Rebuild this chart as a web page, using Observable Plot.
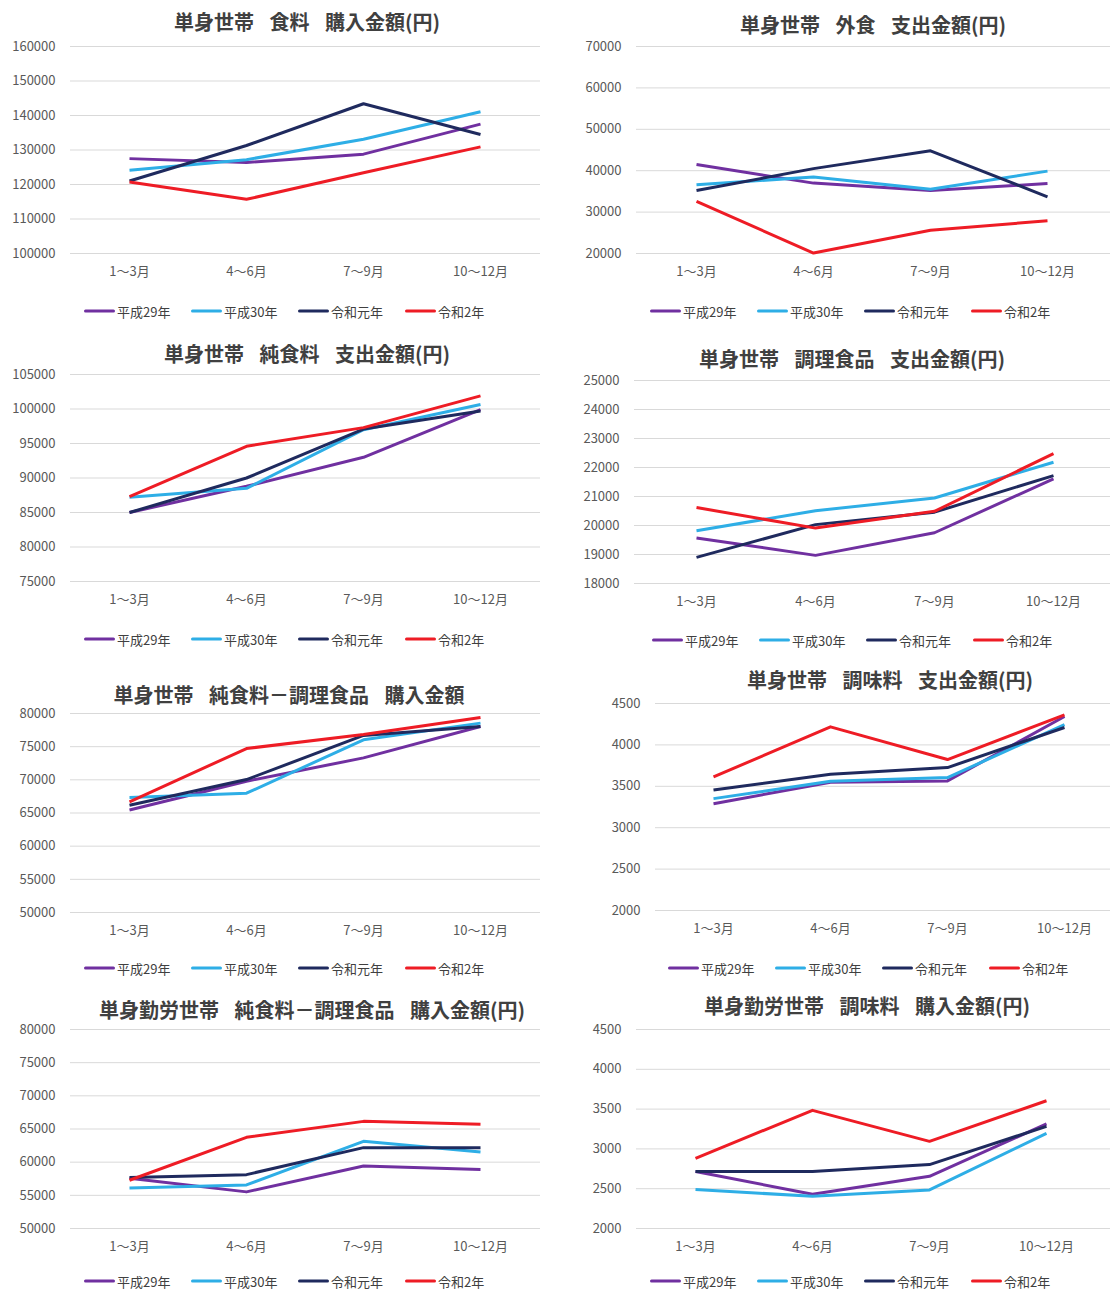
<!DOCTYPE html>
<html><head><meta charset="utf-8">
<script src="https://cdn.jsdelivr.net/npm/d3@7"></script>
<script src="https://cdn.jsdelivr.net/npm/@observablehq/plot@0.6"></script>
<style>
body{margin:0;background:#fff;font-family:"Noto Sans CJK JP","Noto Sans",sans-serif;}
#root{position:relative;width:1110px;height:1290px;overflow:hidden;background:#fff;}
.panel{position:absolute;}
.title{position:absolute;transform:translate(-50%,-50%);white-space:pre;font-size:20px;line-height:24px;color:#404040;font-weight:700;word-spacing:11px;}
.litem{position:absolute;display:flex;align-items:center;transform:translateY(-50%);font-size:13px;line-height:13px;color:#404040;white-space:nowrap;}
.sw{display:inline-block;width:31px;height:3px;margin-right:2px;border-radius:1.5px;}
</style>
</head><body><div id="root"></div>
<script>
// ---- data ----
const quarters = ["1～3月","4～6月","7～9月","10～12月"];
const seriesNames = ["平成29年","平成30年","令和元年","令和2年"];
const seriesColors = ["#7030a0","#2eaee6","#1f2a5e","#ee1c25"];

const food_h29 = [127500,126400,128800,137500];
const food_h30 = [124100,127200,133100,141100];
const food_r1  = [121000,131300,143400,134500];
const food_r2  = [120700,115700,123400,130900];

const gaishoku_h29 = [41500,37000,35200,36900];
const gaishoku_h30 = [36600,38500,35500,39900];
const gaishoku_r1  = [35200,40500,44800,33700];
const gaishoku_r2  = [32600,20100,25600,27900];

const jun_h29 = [85000,88800,93000,99900];
const jun_h30 = [87200,88500,97000,100650];
const jun_r1  = [85000,90000,97100,99700];
const jun_r2  = [87300,94600,97300,101900];

const chori_h29 = [19570,18970,19750,21610];
const chori_h30 = [19820,20510,20950,22180];
const chori_r1  = [18900,20030,20460,21720];
const chori_r2  = [20620,19910,20490,22480];

const sa_h29 = [65460,69790,73310,78050];
const sa_h30 = [67320,67980,76030,78550];
const sa_r1  = [66160,70040,76690,78050];
const sa_r2  = [66670,74720,76840,79400];

const chomi_h29 = [3290,3548,3565,4343];
const chomi_h30 = [3351,3560,3605,4246];
const chomi_r1  = [3456,3645,3726,4210];
const chomi_r2  = [3613,4218,3823,4363];

const kinroSa_h29 = [57570,55520,59430,58880];
const kinroSa_h30 = [56120,56570,63140,61530];
const kinroSa_r1  = [57670,58120,62190,62190];
const kinroSa_r2  = [57270,63740,66150,65700];

const kinroChomi_h29 = [2715,2431,2656,3313];
const kinroChomi_h30 = [2489,2405,2485,3196];
const kinroChomi_r1  = [2715,2715,2803,3283];
const kinroChomi_r2  = [2882,3484,3095,3605];

const ticksFood = [100000,110000,120000,130000,140000,150000,160000];
const ticksGaishoku = [20000,30000,40000,50000,60000,70000];
const ticksJun = [75000,80000,85000,90000,95000,100000,105000];
const ticksChori = [18000,19000,20000,21000,22000,23000,24000,25000];
const ticksSa = [50000,55000,60000,65000,70000,75000,80000];
const ticksChomi = [2000,2500,3000,3500,4000,4500];

const titles = [
  "単身世帯 食料 購入金額(円)",
  "単身世帯 外食 支出金額(円)",
  "単身世帯 純食料 支出金額(円)",
  "単身世帯 調理食品 支出金額(円)",
  "単身世帯 純食料－調理食品 購入金額",
  "単身世帯 調味料 支出金額(円)",
  "単身勤労世帯 純食料－調理食品 購入金額(円)",
  "単身勤労世帯 調味料 購入金額(円)"
];

// ---- layout ----
const panels = [
  {series:[food_h29,food_h30,food_r1,food_r2], ticks:ticksFood, svgL:0, gridL:70, gridR:540, top:46, bottom:253, c1:128, c4:481, tx:307, ty:22, lx:84, ly:311},
  {series:[gaishoku_h29,gaishoku_h30,gaishoku_r1,gaishoku_r2], ticks:ticksGaishoku, svgL:556, gridL:636, gridR:1110, top:46, bottom:253, c1:695, c4:1047, tx:873, ty:25, lx:650, ly:311},
  {series:[jun_h29,jun_h30,jun_r1,jun_r2], ticks:ticksJun, svgL:0, gridL:70, gridR:540, top:374, bottom:581, c1:128, c4:481, tx:307, ty:354, lx:84, ly:639},
  {series:[chori_h29,chori_h30,chori_r1,chori_r2], ticks:ticksChori, svgL:556, gridL:634, gridR:1110, top:380, bottom:583, c1:696, c4:1053, tx:852, ty:359, lx:652, ly:640},
  {series:[sa_h29,sa_h30,sa_r1,sa_r2], ticks:ticksSa, svgL:0, gridL:70, gridR:540, top:713, bottom:912, c1:128, c4:481, tx:289, ty:695, lx:84, ly:968},
  {series:[chomi_h29,chomi_h30,chomi_r1,chomi_r2], ticks:ticksChomi, svgL:556, gridL:655, gridR:1110, top:703, bottom:910, c1:712, c4:1064, tx:890, ty:680, lx:668, ly:968},
  {series:[kinroSa_h29,kinroSa_h30,kinroSa_r1,kinroSa_r2], ticks:ticksSa, svgL:0, gridL:70, gridR:540, top:1029, bottom:1228, c1:128, c4:481, tx:312, ty:1010, lx:84, ly:1281},
  {series:[kinroChomi_h29,kinroChomi_h30,kinroChomi_r1,kinroChomi_r2], ticks:ticksChomi, svgL:556, gridL:636, gridR:1110, top:1029, bottom:1228, c1:694, c4:1047, tx:867, ty:1006, lx:650, ly:1281}
];

const root = document.getElementById("root");

panels.forEach((p, idx) => {
  const rows = [];
  p.series.forEach((vals, si) => vals.forEach((v, qi) => rows.push({s: seriesNames[si], q: quarters[qi], v})));
  const svgTop = p.top - 10;
  const mb = 40;
  const chart = Plot.plot({
    width: p.gridR - p.svgL,
    height: (p.bottom - svgTop) + mb,
    marginLeft: p.gridL - p.svgL,
    marginRight: 0,
    marginTop: 10,
    marginBottom: mb,
    style: {fontFamily: '"Noto Sans CJK JP","Noto Sans",sans-serif', fontSize: "13px", color: "#595959", background: "transparent", overflow: "visible"},
    x: {type: "point", domain: quarters, padding: 0, range: [p.c1 - p.svgL, p.c4 - p.svgL], tickSize: 0, tickPadding: 13, label: null},
    y: {domain: [p.ticks[0], p.ticks[p.ticks.length - 1]], ticks: p.ticks, tickSize: 0, tickPadding: 15, label: null, tickFormat: d => String(d)},
    color: {domain: seriesNames, range: seriesColors},
    marks: [
      Plot.ruleY(p.ticks, {stroke: "#d9d9d9", strokeWidth: 1}),
      Plot.lineY(rows, {x: "q", y: "v", z: "s", stroke: "s", strokeWidth: 3, strokeLinejoin: "round", strokeLinecap: "butt"})
    ]
  });
  chart.classList.add("panel");
  chart.style.left = p.svgL + "px";
  chart.style.top = svgTop + "px";
  root.appendChild(chart);

  const t = document.createElement("div");
  t.className = "title";
  t.textContent = titles[idx];
  t.style.left = p.tx + "px";
  t.style.top = p.ty + "px";
  root.appendChild(t);

  seriesNames.forEach((name, i) => {
    const it = document.createElement("div");
    it.className = "litem";
    it.style.left = (p.lx + i * 107) + "px";
    it.style.top = p.ly + "px";
    const sw = document.createElement("span");
    sw.className = "sw";
    sw.style.background = seriesColors[i];
    const tx = document.createElement("span");
    tx.textContent = name;
    it.appendChild(sw); it.appendChild(tx);
    root.appendChild(it);
  });
});
</script></body></html>
